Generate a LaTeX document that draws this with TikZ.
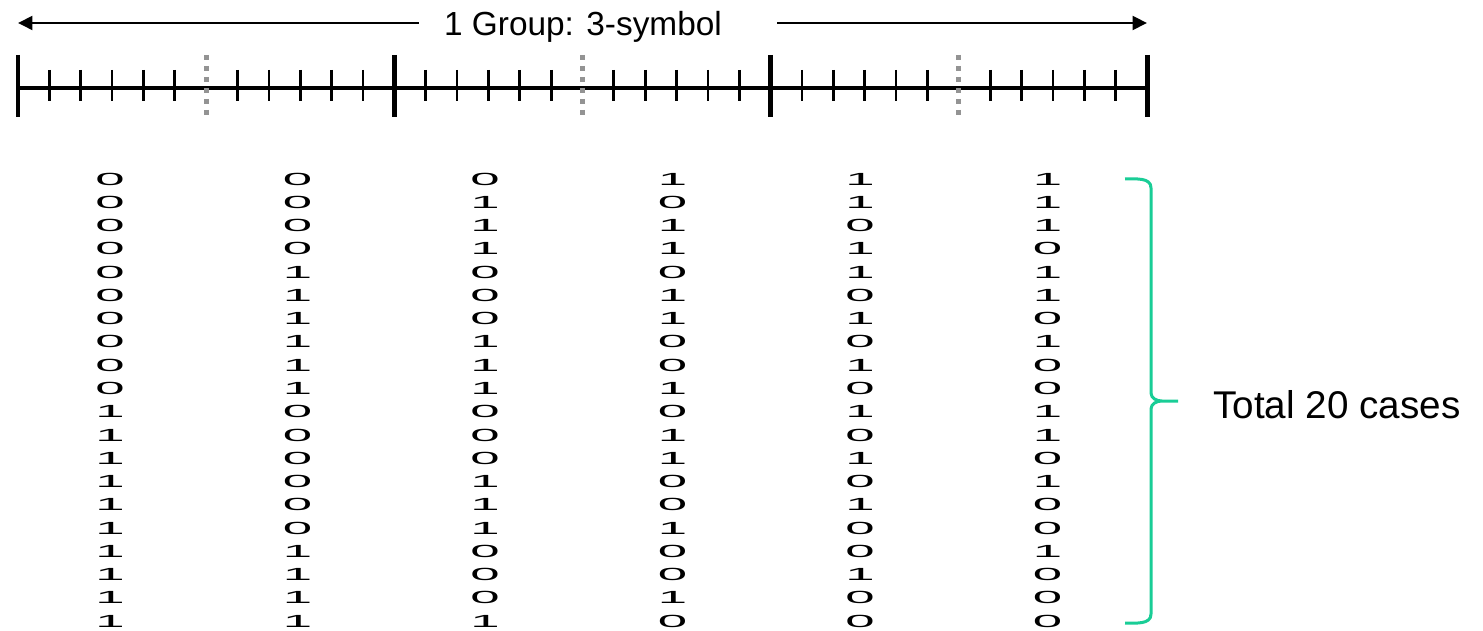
\documentclass[tikz,border=0pt]{standalone}
\usepackage{fontspec}
\setmainfont{Liberation Sans}
\usepackage{graphicx}
\usepackage{xcolor}
\usetikzlibrary{arrows.meta, positioning}
\definecolor{braceGreen}{RGB}{25,205,150}
\tikzset{
    bigTick/.style={line width=0.1cm},
    smallTick/.style={line width=0.055cm},
    midTick/.style={line width=0.1cm, color=gray!85, dash pattern=on 0.1cm off 0.12cm},
    spanArrow/.style={line width=0.04cm, -{Triangle[length=0.29cm, width=0.28cm]}},
    bit/.style={font=\fontsize{10}{10}\selectfont, inner sep=0pt},
    label/.style={inner sep=0pt, text depth=0pt}
}

\begin{document}
\begin{tikzpicture}[x=0.02cm, y=-0.02cm]
    \useasboundingbox (0,0) rectangle (1483,631);

    % group span
    \coordinate (spanL) at (18,23);
    \coordinate (spanR) at (1147,23);
    \node[label, font=\fontsize{19}{22}\selectfont] (title) at (583,23) {1 Group: 3-symbol};
    \draw[spanArrow] ([xshift=-0.5cm]title.west) -- (spanL);
    \draw[spanArrow] ([xshift=1.1cm]title.east) -- (spanR);

    % symbol ruler
    \draw[line width=0.07cm] (18,88) -- (1147,88);
    \foreach \g in {0,1,2,3}
        \draw[bigTick] (18+376.33*\g,55) -- ++(0,62);
    \foreach \k in {1,...,35}{
        \pgfmathtruncatemacro\m{mod(\k,12)}
        \ifnum\m=0 \else
            \ifnum\m=6
                \draw[midTick] (18+31.36*\k,55) -- ++(0,62);
            \else
                \draw[smallTick] (18+31.36*\k,70) -- ++(0,31);
            \fi
        \fi
    }

    % all cases
    \foreach \row [count=\r] in {{0,0,0,1,1,1},{0,0,1,0,1,1},{0,0,1,1,0,1},{0,0,1,1,1,0},
        {0,1,0,0,1,1},{0,1,0,1,0,1},{0,1,0,1,1,0},{0,1,1,0,0,1},{0,1,1,0,1,0},{0,1,1,1,0,0},
        {1,0,0,0,1,1},{1,0,0,1,0,1},{1,0,0,1,1,0},{1,0,1,0,0,1},{1,0,1,0,1,0},{1,0,1,1,0,0},
        {1,1,0,0,0,1},{1,1,0,0,1,0},{1,1,0,1,0,0},{1,1,1,0,0,0}}{
        \foreach \b [count=\c] in \row
            \node[bit] (b-\r-\c) at (110+187.5*\c-187.5, 179+23.27*\r-23.27) {\scalebox{3}[1]{\b}};
    }

    % brace
    \coordinate (braceTop) at (1125,179);
    \coordinate (braceBot) at (1125,623);
    \coordinate (braceTip) at (1178,401);
    \draw[braceGreen, line width=0.06cm] (braceTop) to[out=0,in=90] (1151,188) -- (1151,393)
        to[out=-90,in=180] (1162,401) -- (braceTip)
        (1162,401) to[out=180,in=90] (1151,409) -- (1151,614) to[out=-90,in=0] (braceBot);
    \node[label, font=\fontsize{22}{26}\selectfont, anchor=west] (total) at (1213,404) {Total 20 cases};
\end{tikzpicture}
\end{document}
